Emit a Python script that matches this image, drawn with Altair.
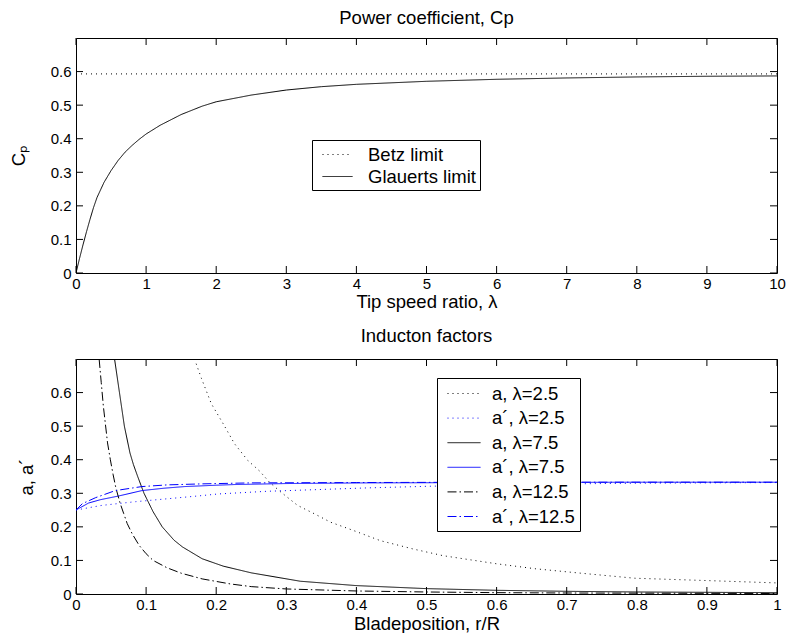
import altair as alt
import pandas as pd

# ---------------- data ----------------
# Top panel: power coefficient vs tip speed ratio
cp_lambda = [0, 0.05, 0.1, 0.15, 0.2, 0.25, 0.3, 0.4, 0.5, 0.6, 0.7, 0.8, 0.9, 1.0,
             1.2, 1.5, 1.8, 2.0, 2.5, 3.0, 3.5, 4.0, 5.0, 6.0, 7.0, 8.0, 9.0, 10.0]
cp_glauert = [0, 0.043, 0.084, 0.123, 0.16, 0.195, 0.225, 0.27, 0.305, 0.335, 0.36, 0.38,
              0.398, 0.414, 0.44, 0.472, 0.497, 0.51, 0.53, 0.545, 0.555, 0.562, 0.571,
              0.577, 0.581, 0.584, 0.586, 0.587]
betz_lambda = [0, 10]
betz_cp = [0.593, 0.593]

# Bottom panel: induction factors vs blade position
r_a25 = [0.169, 0.179, 0.193, 0.21, 0.226, 0.245, 0.262, 0.276, 0.292, 0.316, 0.34, 0.363,
         0.396, 0.434, 0.481, 0.524, 0.6, 0.656, 0.72, 0.797, 0.9, 1.0]
a25 = [0.7, 0.642, 0.567, 0.507, 0.448, 0.398, 0.366, 0.333, 0.304, 0.264, 0.239, 0.214,
       0.189, 0.159, 0.134, 0.114, 0.09, 0.075, 0.062, 0.047, 0.04, 0.033]

r_ap25 = [0, 0.01, 0.037, 0.085, 0.132, 0.174, 0.203, 0.273, 0.316, 0.415, 0.505, 0.6,
          0.7, 0.8, 0.9, 1.0]
ap25 = [0.25, 0.254, 0.264, 0.275, 0.284, 0.292, 0.298, 0.306, 0.309, 0.316, 0.321, 0.325,
        0.328, 0.33, 0.331, 0.332]

r_a75 = [0.055, 0.062, 0.069, 0.077, 0.082, 0.088, 0.097, 0.11, 0.123, 0.14, 0.152, 0.18,
         0.21, 0.25, 0.32, 0.4, 0.5, 0.6, 0.7, 0.8, 0.9, 1.0]
a75 = [0.7, 0.6, 0.5, 0.42, 0.385, 0.35, 0.3, 0.245, 0.2, 0.16, 0.14, 0.105, 0.083, 0.063,
       0.038, 0.025, 0.016, 0.011, 0.008, 0.006, 0.005, 0.004]

r_ap75 = [0, 0.005, 0.018, 0.035, 0.061, 0.094, 0.125, 0.155, 0.2, 0.226, 0.3, 0.415, 0.6,
          0.8, 1.0]
ap75 = [0.25, 0.256, 0.271, 0.281, 0.292, 0.308, 0.315, 0.32, 0.324, 0.326, 0.329, 0.331,
        0.332, 0.333, 0.333]

r_a125 = [0.033, 0.036, 0.039, 0.042, 0.045, 0.049, 0.053, 0.057, 0.063, 0.068, 0.073, 0.08,
          0.09, 0.1, 0.11, 0.13, 0.15, 0.18, 0.22, 0.25, 0.3, 0.4, 0.5, 0.6, 0.7, 0.8, 0.9, 1.0]
a125 = [0.7, 0.63, 0.56, 0.505, 0.45, 0.4, 0.355, 0.315, 0.27, 0.24, 0.21, 0.18, 0.145, 0.12,
        0.1, 0.078, 0.062, 0.045, 0.03, 0.022, 0.015, 0.009, 0.006, 0.004, 0.003, 0.0025,
        0.002, 0.0015]

r_ap125 = [0, 0.009, 0.028, 0.056, 0.094, 0.13, 0.179, 0.25, 0.4, 0.6, 0.8, 1.0]
ap125 = [0.25, 0.269, 0.287, 0.308, 0.32, 0.325, 0.328, 0.331, 0.332, 0.333, 0.333, 0.333]

top_series = ["Betz limit", "Glauerts limit"]
bot_series = ["a, λ=2.5", "a´, λ=2.5", "a, λ=7.5", "a´, λ=7.5", "a, λ=12.5", "a´, λ=12.5"]

x_ticks_top = [0, 1, 2, 3, 4, 5, 6, 7, 8, 9, 10]
x_ticks_bot = [0, 0.1, 0.2, 0.3, 0.4, 0.5, 0.6, 0.7, 0.8, 0.9, 1]
y_ticks = [0, 0.1, 0.2, 0.3, 0.4, 0.5, 0.6]

# ---------------- tables ----------------
def long(pairs, names):
    rows = []
    for (xs, ys), n in zip(pairs, names):
        for xv, yv in zip(xs, ys):
            rows.append({"x": xv, "y": yv, "s": n})
    return pd.DataFrame(rows)

df_top = long([(betz_lambda, betz_cp), (cp_lambda, cp_glauert)], top_series)
df_bot = long([(r_a25, a25), (r_ap25, ap25), (r_a75, a75), (r_ap75, ap75),
               (r_a125, a125), (r_ap125, ap125)], bot_series)

# ---------------- styling ----------------
W, H = 701, 235
FONT = "Liberation Sans"
TICK = 7
DOT = [1, 4]
SOLID = [1, 0]
DASHDOT = [9, 3, 1.5, 3]


def axis(values, title, title_pad, label_pad):
    return alt.Axis(values=values, title=title, ticks=False, domain=False, grid=False,
                    labelFontSize=15, labelFont=FONT, labelColor="black", labelPadding=label_pad,
                    titleFontSize=18.5, titleFont=FONT, titleFontWeight="normal",
                    titleColor="black", titlePadding=title_pad, format="~r",
                    labelFlush=False, labelOverlap=False)


def legend_props(x, y, half_len, sym_off, lab_off, rowpad, pad):
    return dict(title=None, orient="none", legendX=x, legendY=y,
                symbolType=f"M-{half_len},0H{half_len}", symbolSize=400,
                symbolStrokeWidth=1, symbolOffset=sym_off,
                labelFontSize=18.5, labelFont=FONT, labelColor="black",
                labelOffset=lab_off, rowPadding=rowpad, padding=pad,
                strokeColor="black", fillColor="white", labelLimit=400)


def tick_layers(xvals, yvals, xscale, yscale, xaxis, yaxis):
    tx = pd.DataFrame({"x": xvals})
    ty = pd.DataFrame({"y": yvals})
    rule = dict(color="black", strokeWidth=1)
    bottom = alt.Chart(tx).mark_rule(**rule).encode(
        x=alt.X("x:Q", scale=xscale, axis=xaxis), y=alt.value(H), y2=alt.value(H - TICK))
    top = alt.Chart(tx).mark_rule(**rule).encode(
        x=alt.X("x:Q", scale=xscale, axis=xaxis), y=alt.value(0), y2=alt.value(TICK))
    left = alt.Chart(ty).mark_rule(**rule).encode(
        y=alt.Y("y:Q", scale=yscale, axis=yaxis), x=alt.value(0), x2=alt.value(TICK))
    right = alt.Chart(ty).mark_rule(**rule).encode(
        y=alt.Y("y:Q", scale=yscale, axis=yaxis), x=alt.value(W), x2=alt.value(W - TICK))
    return [bottom, top, left, right]


# ---------------- top panel ----------------
xs_top = alt.Scale(domain=[0, 10], nice=False, zero=False)
ys = alt.Scale(domain=[0, 0.7], nice=False, zero=False)
lp_top = legend_props(236, 102, 1.5, 11, 20, 2, 4)
xa_top = axis(x_ticks_top, "Tip speed ratio, λ", 1, 3)
ya_top = axis(y_ticks, "Cₚ", 22, 5)

lines_top = alt.Chart(df_top).mark_line(strokeWidth=1, clip=True).encode(
    x=alt.X("x:Q", scale=xs_top, axis=xa_top),
    y=alt.Y("y:Q", scale=ys, axis=ya_top),
    color=alt.Color("s:N", scale=alt.Scale(domain=top_series, range=["black", "black"]),
                    legend=alt.Legend(**lp_top)),
    strokeDash=alt.StrokeDash("s:N", scale=alt.Scale(domain=top_series, range=[DOT, SOLID]),
                              legend=alt.Legend(**lp_top)),
)

top_chart = alt.layer(lines_top, *tick_layers(x_ticks_top, y_ticks, xs_top, ys, xa_top, ya_top)).properties(
    width=W, height=H,
    title=alt.TitleParams("Power coefficient, Cp", fontSize=18.5, font=FONT,
                          fontWeight="normal", color="black", offset=6, dy=-4,
                          anchor="middle"),
)

# ---------------- bottom panel ----------------
xs_bot = alt.Scale(domain=[0, 1], nice=False, zero=False)
lp_bot = legend_props(361, 19, 1.65, 11.5, 17.5, 4.6, 5)
xa_bot = axis(x_ticks_bot, "Bladeposition, r/R", 2, 3)
ya_bot = axis(y_ticks, "a, a´", 14, 5)

lines_bot = alt.Chart(df_bot).mark_line(strokeWidth=1, clip=True).encode(
    x=alt.X("x:Q", scale=xs_bot, axis=xa_bot),
    y=alt.Y("y:Q", scale=ys, axis=ya_bot),
    color=alt.Color("s:N", scale=alt.Scale(domain=bot_series,
                                           range=["black", "blue", "black", "blue", "black", "blue"]),
                    legend=alt.Legend(**lp_bot)),
    strokeDash=alt.StrokeDash("s:N", scale=alt.Scale(domain=bot_series,
                                                     range=[DOT, DOT, SOLID, SOLID, DASHDOT, DASHDOT]),
                              legend=alt.Legend(**lp_bot)),
)

bot_chart = alt.layer(lines_bot, *tick_layers(x_ticks_bot, y_ticks, xs_bot, ys, xa_bot, ya_bot)).properties(
    width=W, height=H,
    title=alt.TitleParams("Inducton factors", fontSize=18.5, font=FONT,
                          fontWeight="normal", color="black", offset=13, anchor="middle"),
)

chart = alt.vconcat(top_chart, bot_chart, spacing=15).resolve_scale(
    color="independent", strokeDash="independent", x="independent", y="independent"
).properties(
    padding={"left": 0, "top": 0, "right": 0, "bottom": 0},
    background="white",
).configure_view(stroke="black", strokeWidth=1)

chart.save("out.html", embed_options={"renderer": "svg", "actions": False})
